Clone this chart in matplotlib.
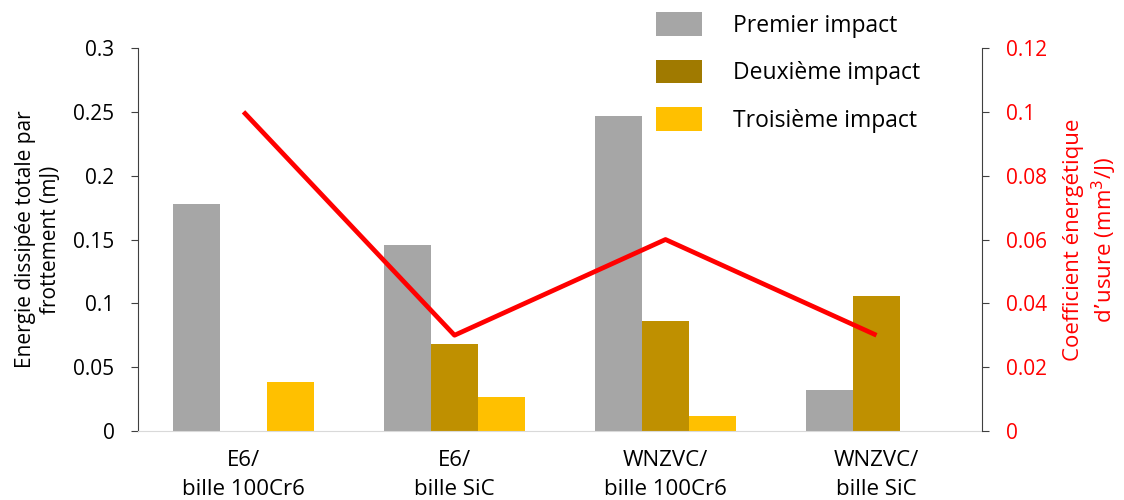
import matplotlib
matplotlib.use("Agg")
import matplotlib.pyplot as plt
import numpy as np
from matplotlib.patches import Patch

plt.rcParams['font.family'] = ['Open Sans', 'DejaVu Sans']

categories = ["E6/\nbille 100Cr6", "E6/\nbille SiC", "WNZVC/\nbille 100Cr6", "WNZVC/\nbille SiC"]
premier = [0.178, 0.146, 0.247, 0.032]
deuxieme = [0.0, 0.068, 0.086, 0.106]
troisieme = [0.038, 0.027, 0.012, 0.0]
coefficient = [0.10, 0.03, 0.06, 0.03]
series_names = ["Premier impact", "Deuxième impact", "Troisième impact"]

grey = "#A6A6A6"
gold = "#BF9000"
gold_legend = "#A07A00"
yellow = "#FFC000"

fig = plt.figure(figsize=(11.24, 5), dpi=100)
ax = fig.add_axes([138/1124, 69/500, 844/1124, 383/500])

x = np.arange(len(categories))
w = 0.222
ax.bar(x - w, premier, w, color=grey)
ax.bar(x, deuxieme, w, color=gold)
ax.bar(x + w, troisieme, w, color=yellow)

ax.set_xlim(-0.5, 3.5)
ax.set_ylim(0, 0.3)
ax.set_yticks(np.arange(0, 0.301, 0.05))
ax.set_yticklabels(["0", "0.05", "0.1", "0.15", "0.2", "0.25", "0.3"])
ax.set_xticks(x)
ax.set_xticklabels(categories, fontsize=16, linespacing=1.45)
ax.tick_params(axis='x', length=0, pad=14)
ax.tick_params(axis='y', labelsize=15, length=5, color='#404040', pad=12)
ax.spines['top'].set_visible(False)
ax.spines['right'].set_visible(False)
ax.spines['bottom'].set_color('#D9D9D9')
ax.spines['left'].set_color('#404040')
ax.set_ylabel("Energie dissipée totale par\nfrottement (mJ)", fontsize=15, labelpad=9)

ax2 = ax.twinx()
ax2.plot(x, coefficient, color='#FF0000', lw=3.4, solid_capstyle='butt')
ax2.set_ylim(0, 0.12)
ax2.set_yticks(np.arange(0, 0.1201, 0.02))
ax2.set_yticklabels(["0", "0.02", "0.04", "0.06", "0.08", "0.1", "0.12"])
ax2.tick_params(axis='y', labelsize=15, length=5, color='#404040', labelcolor='#FF0000', pad=12)
for s in ['top', 'left', 'bottom']:
    ax2.spines[s].set_visible(False)
ax2.spines['right'].set_color('#404040')
ax2.set_ylabel("Coefficient énergétique\nd\u2019usure (mm$^3$/J)", fontsize=16, color='#FF0000',
               labelpad=12, linespacing=1.25)

handles = [Patch(facecolor=grey), Patch(facecolor=gold_legend), Patch(facecolor=yellow)]
fig.legend(handles, series_names, loc='upper left', bbox_to_anchor=(656/1124, 1 - 12/500),
           frameon=False, fontsize=16.5, borderpad=0, borderaxespad=0,
           handlelength=2.0, handleheight=1.22, labelspacing=0.96, handletextpad=1.35)

fig.savefig("out.png", dpi=100)
